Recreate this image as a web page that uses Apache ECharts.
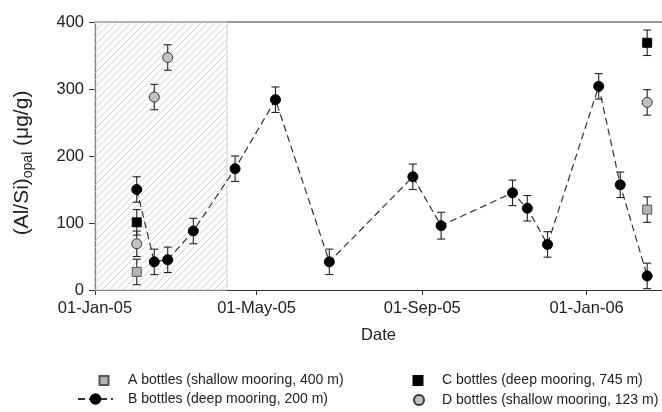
<!DOCTYPE html>
<html><head><meta charset="utf-8">
<script src="https://cdn.jsdelivr.net/npm/echarts@6/dist/echarts.min.js"></script>
<style>html,body{margin:0;padding:0;background:#fff}#c{width:662px;height:412px}</style>
</head><body><div id="c"></div>
<script>
// ---- data ----
const tickDates = ['2005-01-01', '2005-05-01', '2005-09-01', '2006-01-01'];
const tickLabels = ['01-Jan-05', '01-May-05', '01-Sep-05', '01-Jan-06'];
const xRange = ['2005-01-01', '2006-02-26'];
const shadedPeriod = ['2005-01-01', '2005-04-09'];

const seriesNames = [
  'A bottles (shallow mooring, 400 m)',
  'B bottles (deep mooring, 200 m)',
  'C bottles (deep mooring, 745 m)',
  'D bottles (shallow mooring, 123 m)'
];

const bDates = ['2005-02-01', '2005-02-14', '2005-02-24', '2005-03-15', '2005-04-15', '2005-05-15', '2005-06-24',
  '2005-08-25', '2005-09-15', '2005-11-07', '2005-11-18', '2005-12-03', '2006-01-10', '2006-01-26', '2006-02-15'];
const bValues = [150, 42, 45, 88, 181, 284, 42, 169, 96, 145, 122, 68, 304, 157, 21];
const bErrors = [19, 19, 19, 19, 19, 19, 19, 19, 20, 19, 19, 19, 19, 19, 19];

const aDates = ['2005-02-01', '2006-02-15'];
const aValues = [27, 120];
const aErrors = [19, 19];

const cDates = ['2005-02-01', '2006-02-15'];
const cValues = [101, 369];
const cErrors = [19, 19];

const dDates = ['2005-02-01', '2005-02-14', '2005-02-24', '2006-02-15'];
const dValues = [69, 288, 347, 280];
const dErrors = [19, 19, 19, 19];

// ---- helpers ----
function ts(s) { const p = s.split('-').map(Number); return Date.UTC(p[0], p[1] - 1, p[2]); }
function pairs(dates, vals) { return dates.map((d, i) => [ts(d), vals[i]]); }
function triples(dates, vals, errs) { return dates.map((d, i) => [ts(d), vals[i], errs[i]]); }
const tickTimes = tickDates.map(ts);

function hatch() {
  const s = 7, c = document.createElement('canvas');
  c.width = s; c.height = s;
  const g = c.getContext('2d');
  g.strokeStyle = '#c4c4c4'; g.lineWidth = 0.7;
  for (let i = -1; i <= 1; i++) {
    g.beginPath(); g.moveTo(i * s, s); g.lineTo(i * s + s, 0); g.stroke();
  }
  return c;
}

function renderErr(params, api) {
  const x = api.value(0), v = api.value(1), e = api.value(2);
  const t = api.coord([x, v + e]), b = api.coord([x, v - e]);
  const w = 4, st = { stroke: '#222', lineWidth: 1.1 };
  return { type: 'group', children: [
    { type: 'line', shape: { x1: t[0], y1: t[1], x2: b[0], y2: b[1] }, style: st },
    { type: 'line', shape: { x1: t[0] - w, y1: t[1], x2: t[0] + w, y2: t[1] }, style: st },
    { type: 'line', shape: { x1: b[0] - w, y1: b[1], x2: b[0] + w, y2: b[1] }, style: st }
  ]};
}
function errSeries(dates, vals, errs) {
  return { type: 'custom', renderItem: renderErr, data: triples(dates, vals, errs), z: 2, silent: true,
    encode: { x: 0, y: 1 } };
}

const font = "'Liberation Sans', Arial, sans-serif";
const chart = echarts.init(document.getElementById('c'), null, { renderer: 'canvas' });

const legendBase = { padding: 0, orient: 'vertical', textStyle: { fontFamily: font, fontSize: 14, color: '#222' }, selectedMode: false };

chart.setOption({
  animation: false,
  backgroundColor: '#fff',
  grid: { left: 95, right: 0, top: 22, bottom: 122 },
  xAxis: [{
    type: 'value', min: ts(xRange[0]), max: ts(xRange[1]),
    name: 'Date', nameLocation: 'middle', nameGap: 37,
    nameTextStyle: { fontFamily: font, fontSize: 16.5, color: '#222' },
    axisLine: { show: true, lineStyle: { color: '#333', width: 1.2 } },
    axisTick: { show: true, length: 5, lineStyle: { color: '#333' }, customValues: tickTimes },
    axisLabel: { show: true, margin: 10, fontFamily: font, fontSize: 16.5, color: '#222',
      customValues: tickTimes,
      formatter: v => tickLabels[tickTimes.indexOf(v)] },
    splitLine: { show: false }
  }, {
    type: 'value', position: 'top', min: ts(xRange[0]), max: ts(xRange[1]),
    axisLine: { show: true, lineStyle: { color: '#777', width: 1.5 } },
    axisTick: { show: false }, axisLabel: { show: false }, splitLine: { show: false }
  }],
  yAxis: {
    type: 'value', min: 0, max: 400, interval: 100,
    name: '{a|(Al/Si)}{b|opal}{a| (μg/g)}', nameLocation: 'middle', nameGap: 60,
    nameTextStyle: { padding: [0, 14, 0, 0], rich: {
      a: { fontFamily: font, fontSize: 21, color: '#222', lineHeight: 25 },
      b: { fontFamily: font, fontSize: 14, color: '#222', lineHeight: 16, verticalAlign: 'bottom' }
    } },
    axisLine: { show: true, lineStyle: { color: '#333', width: 1.2 } },
    axisTick: { show: true, length: 6, lineStyle: { color: '#333' } },
    axisLabel: { margin: 11, fontFamily: font, fontSize: 16.5, color: '#222' },
    splitLine: { show: false }
  },
  legend: [
    Object.assign({}, legendBase, { data: [seriesNames[0]], left: 98.5, top: 373.5, itemWidth: 9, itemHeight: 9,
      textStyle: Object.assign({}, legendBase.textStyle, { padding: [0, 0, 0, 14.5] }) }),
    Object.assign({}, legendBase, { data: [seriesNames[1]], left: 77, top: 392, itemWidth: 35, itemHeight: 12,
      textStyle: Object.assign({}, legendBase.textStyle, { padding: [0, 0, 0, 10] }) }),
    Object.assign({}, legendBase, { data: [seriesNames[2]], left: 412.5, top: 373.5, itemWidth: 9, itemHeight: 9,
      textStyle: Object.assign({}, legendBase.textStyle, { padding: [0, 0, 0, 14.5] }) }),
    Object.assign({}, legendBase, { data: [seriesNames[3]], left: 413, top: 393, itemWidth: 10, itemHeight: 10,
      textStyle: Object.assign({}, legendBase.textStyle, { padding: [0, 0, 0, 13] }) })
  ],
  series: [
    errSeries(aDates, aValues, aErrors),
    errSeries(cDates, cValues, cErrors),
    errSeries(dDates, dValues, dErrors),
    errSeries(bDates, bValues, bErrors),
    {
      name: seriesNames[0], type: 'scatter', data: pairs(aDates, aValues), symbol: 'rect', symbolSize: 9, z: 3,
      itemStyle: { color: '#b4b4b4', borderColor: '#555', borderWidth: 1, opacity: 1 },
      markArea: {
        silent: true,
        itemStyle: { color: { image: hatch(), repeat: 'repeat' }, borderColor: '#cfcfcf', borderWidth: 1, opacity: 1 },
        data: [[{ xAxis: ts(shadedPeriod[0]), yAxis: 0 }, { xAxis: ts(shadedPeriod[1]), yAxis: 400 }]]
      }
    },
    {
      name: seriesNames[2], type: 'scatter', data: pairs(cDates, cValues), symbol: 'rect', symbolSize: 9, z: 3,
      itemStyle: { color: '#000', borderColor: '#000', borderWidth: 1, opacity: 1 }
    },
    {
      name: seriesNames[3], type: 'scatter', data: pairs(dDates, dValues), symbol: 'circle', symbolSize: 10, z: 3,
      itemStyle: { color: '#c2c2c2', borderColor: '#333', borderWidth: 1, opacity: 1 }
    },
    {
      name: seriesNames[1], type: 'line', data: pairs(bDates, bValues), symbol: 'circle', symbolSize: 10, z: 4,
      showAllSymbol: true,
      itemStyle: { color: '#000', borderColor: '#000', borderWidth: 1 },
      lineStyle: { color: '#333', width: 1.2, type: [7, 4] }
    }
  ]
});
</script></body></html>
